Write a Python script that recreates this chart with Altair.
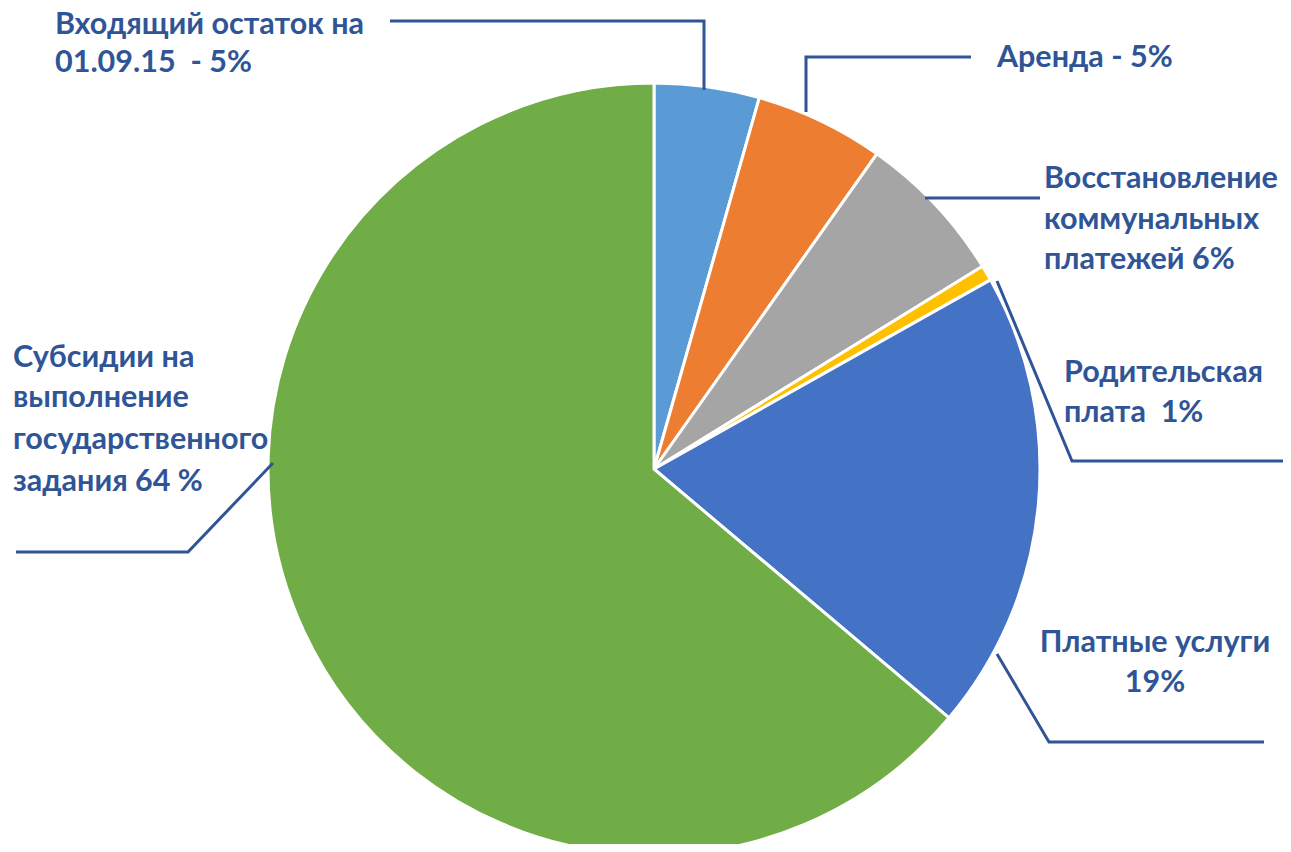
import altair as alt
import pandas as pd

# --- data ---
categories = [
    "Входящий остаток на 01.09.15",
    "Аренда",
    "Восстановление коммунальных платежей",
    "Родительская плата",
    "Платные услуги",
    "Субсидии на выполнение государственного задания",
]
values = [4.4, 5.4, 6.4, 0.65, 19.3, 63.85]
colors = ["#5B9BD5", "#ED7D31", "#A5A5A5", "#FFC000", "#4472C4", "#70AD47"]

# label text lines (one row per line)
label_text = [
    "Входящий остаток на", "01.09.15\u00a0 - 5%",
    "Аренда - 5%",
    "Восстановление", "коммунальных", "платежей 6%",
    "Родительская", "плата\u00a0 1%",
    "Субсидии на", "выполнение", "государственного", "задания 64 %",
]
label_x = [55, 55, 997, 1044, 1044, 1044, 1064, 1064, 13, 13, 13, 13]
label_y = [25, 63, 58, 179, 220, 260, 373, 413, 358, 398, 440, 482]

center_text = ["Платные услуги", "19%"]
center_x = [1155, 1155]
center_y = [643, 683]

# leader lines: group id, x, y
leader_group = [1, 1, 1, 2, 2, 2, 3, 3, 4, 4, 4, 5, 5, 5, 6, 6, 6]
leader_x = [390, 704, 704, 806, 806, 971, 925, 1040, 997, 1072, 1291, 273, 188, 16, 997, 1049, 1264]
leader_y = [21, 21, 90, 112, 57, 57, 198, 198, 281, 461, 461, 463, 552, 552, 654, 742, 742]

pie_df = pd.DataFrame({"cat": categories, "val": values, "ord": list(range(len(values)))})
lab_df = pd.DataFrame({"t": label_text, "x": label_x, "y": label_y})
cen_df = pd.DataFrame({"t": center_text, "x": center_x, "y": center_y})
lead_df = pd.DataFrame({"g": leader_group, "x": leader_x, "y": leader_y,
                        "i": list(range(len(leader_x)))})

W, H = 1275, 836
xs = alt.Scale(domain=[8, 8 + W], range=[0, W], zero=False, nice=False)
ys = alt.Scale(domain=[8, 8 + H], range=[0, H], zero=False, nice=False)
TEXT_COLOR = "#2F5597"
FONT = "Lato"
FS = 30.5

pie = alt.Chart(pie_df).mark_arc(radius=386, stroke="white", strokeWidth=3).encode(
    theta=alt.Theta("val:Q", stack=True),
    order=alt.Order("ord:Q"),
    color=alt.Color("cat:N", scale=alt.Scale(domain=categories, range=colors), legend=None),
    x=alt.X(datum=654, scale=xs, axis=None),
    y=alt.Y(datum=469, scale=ys, axis=None),
)

leaders = alt.Chart(lead_df).mark_line(color=TEXT_COLOR, strokeWidth=3).encode(
    x=alt.X("x:Q", scale=xs, axis=None),
    y=alt.Y("y:Q", scale=ys, axis=None),
    detail="g:N",
    order="i:Q",
)

labels = alt.Chart(lab_df).mark_text(
    align="left", baseline="middle", font=FONT, fontWeight="bold", fontSize=FS, color=TEXT_COLOR
).encode(
    x=alt.X("x:Q", scale=xs, axis=None),
    y=alt.Y("y:Q", scale=ys, axis=None),
    text="t:N",
)

clabels = alt.Chart(cen_df).mark_text(
    align="center", baseline="middle", font=FONT, fontWeight="bold", fontSize=FS, color=TEXT_COLOR
).encode(
    x=alt.X("x:Q", scale=xs, axis=None),
    y=alt.Y("y:Q", scale=ys, axis=None),
    text="t:N",
)

chart = alt.layer(pie, leaders, labels, clabels).properties(
    width=W, height=H, padding=0, autosize=alt.AutoSizeParams(type="none")
).configure_view(stroke=None)

chart.save("out.html", embed_options={"renderer": "svg", "actions": False})
